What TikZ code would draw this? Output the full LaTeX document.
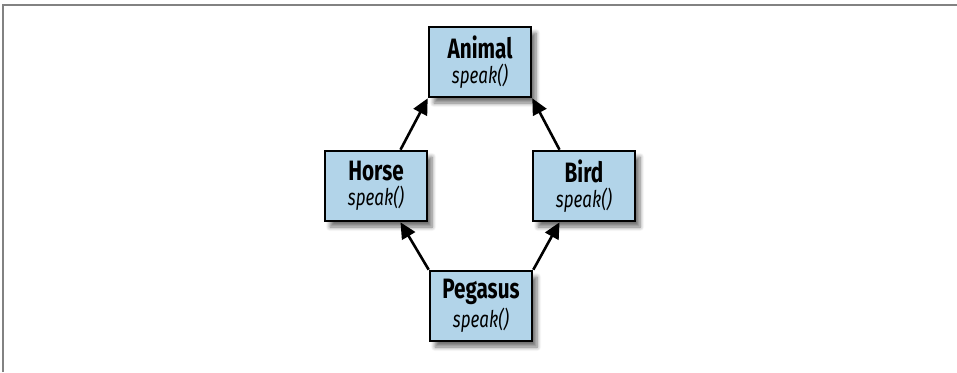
\documentclass[tikz,border=0pt]{standalone}
\usepackage{fontspec}
\setmainfont{Fira Sans}[FakeStretch=0.74]
\usetikzlibrary{arrows.meta,shadows.blur}

\definecolor{classblue}{RGB}{178,212,233}
\definecolor{framegray}{RGB}{130,130,130}

\tikzset{
  classbox/.style={draw=black, line width=1.3pt, fill=classblue,
    minimum width=51pt, minimum height=35pt, inner sep=0pt, align=center,
    blur shadow={shadow xshift=2.5pt, shadow yshift=-3pt, shadow blur steps=6, shadow opacity=55}},
  inherits/.style={line width=1.3pt, -{Triangle[length=8pt,width=7.5pt]}}
}

\newcommand{\classtext}[1]{{\fontsize{14}{15}\selectfont\bfseries #1}\\[0.5pt]{\fontsize{11.5}{12}\selectfont\itshape speak()}}

\begin{document}
\begin{tikzpicture}[x=0.5pt, y=-0.5pt]
  % Fix the page size
  \useasboundingbox (0,0) rectangle (957,372);

  % Draw the frame
  \draw[framegray, line width=1pt] (3,372) -- (3,5) -- (957,5);

  % Draw the classes
  \node[classbox] (animal) at (480,62) {\classtext{Animal}};
  \node[classbox] (horse) at (376,186) {\classtext{Horse}};
  \node[classbox] (bird) at (584,186) {\classtext{Bird}};
  \node[classbox] (pegasus) at (481,306) {\classtext{Pegasus}};

  % Draw the inheritance arrows
  \draw[inherits] (horse.56) -- (animal.south west);
  \draw[inherits] (bird.124) -- (animal.south east);
  \draw[inherits] (pegasus.north west) -- (horse.-56);
  \draw[inherits] (pegasus.north east) -- (bird.-124);

\end{tikzpicture}
\end{document}
